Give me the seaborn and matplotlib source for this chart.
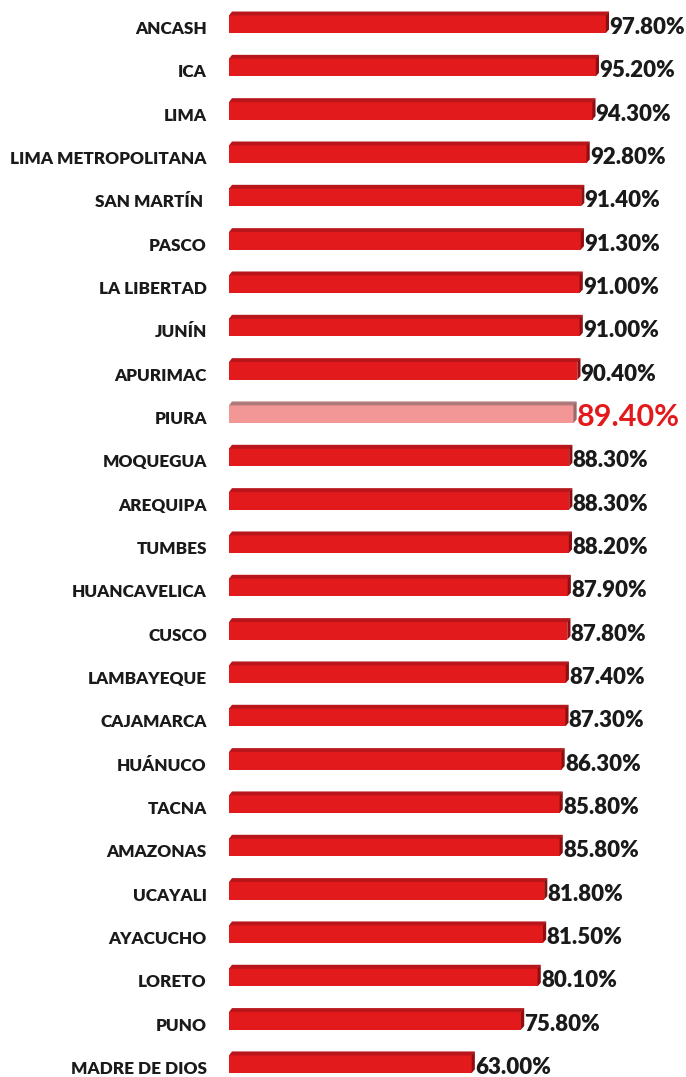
import matplotlib
matplotlib.use("Agg")
import matplotlib.pyplot as plt
import matplotlib.transforms as mtransforms
from matplotlib.patches import Polygon
import seaborn as sns
import pandas as pd

regions = ["ANCASH", "ICA", "LIMA", "LIMA METROPOLITANA", "SAN MARTÍN ", "PASCO",
           "LA LIBERTAD", "JUNÍN", "APURIMAC", "PIURA", "MOQUEGUA", "AREQUIPA",
           "TUMBES", "HUANCAVELICA", "CUSCO", "LAMBAYEQUE", "CAJAMARCA", "HUÁNUCO",
           "TACNA", "AMAZONAS", "UCAYALI", "AYACUCHO", "LORETO", "PUNO", "MADRE DE DIOS"]
values = [97.8, 95.2, 94.3, 92.8, 91.4, 91.3, 91.0, 91.0, 90.4, 89.4, 88.3, 88.3,
          88.2, 87.9, 87.8, 87.4, 87.3, 86.3, 85.8, 85.8, 81.8, 81.5, 80.1, 75.8, 63.0]
value_labels = [f"{v:.2f}%" for v in values]
highlight = "PIURA"

FRONT = "#E31A1C"
TOP = "#B8161A"
SIDE = "#8E0F12"
H_FRONT = "#F29696"
H_TOP = "#B07A7A"
H_SIDE = "#9A6A6A"

sns.set_theme(style="white")
plt.rcParams["font.family"] = ["Lato", "DejaVu Sans"]

W, H = 686, 1077
fig = plt.figure(figsize=(W / 100, H / 100), dpi=100)
left_px = 229
ax = fig.add_axes([left_px / W, 0, (W - left_px) / W, 1])

df = pd.DataFrame({"region": regions, "value": values})
palette = {r: (H_FRONT if r == highlight else FRONT) for r in regions}
sns.barplot(data=df, x="value", y="region", hue="region", palette=palette,
            orient="h", width=0.415, legend=False, ax=ax, saturation=1,
            edgecolor="none", linewidth=0)

px_per_x = 3.855
px_per_row = 43.33
ax.set_xlim(0, (W - left_px) / px_per_x)
top_lim = -24 / px_per_row
ax.set_ylim(top_lim + H / px_per_row, top_lim)

sns.despine(ax=ax, left=True, bottom=True)
ax.set_xticks([])
ax.set_xlabel("")
ax.set_ylabel("")
ax.tick_params(axis="y", length=0, pad=16)
down = mtransforms.ScaledTranslation(0, -3.5 / 100, fig.dpi_scale_trans)
for lab in ax.get_yticklabels():
    lab.set_fontweight("heavy")
    lab.set_fontsize(12.3)
    lab.set_color("#1a1a1a")
    lab.set_transform(lab.get_transform() + down)

dx = 3 / px_per_x
dy = 3.5 / px_per_row
for i, (patch, r) in enumerate(zip(ax.patches, regions)):
    x0 = patch.get_x()
    x1 = x0 + patch.get_width()
    yt = patch.get_y()
    yb = yt + patch.get_height()
    hl = r == highlight
    top = Polygon([(x0, yt + 0.01), (x0 + dx, yt - dy), (x1 + dx, yt - dy), (x1, yt + 0.01)],
                  closed=True, facecolor=H_TOP if hl else TOP, edgecolor="none")
    side = Polygon([(x1 - 0.05, yt), (x1 + dx, yt - dy), (x1 + dx, yb - dy), (x1 - 0.05, yb)],
                   closed=True, facecolor=H_SIDE if hl else SIDE, edgecolor="none")
    ax.add_patch(top)
    ax.add_patch(side)
    cy = yt + patch.get_height() / 2
    ax.text(x1 + dx + 0.05, cy, value_labels[i], ha="left", va="center",
            fontsize=22 if hl else 16, fontweight="bold" if hl else "heavy",
            color="#E31A1C" if hl else "#1a1a1a",
            transform=ax.transData + down)

fig.savefig("out.png", dpi=100)
